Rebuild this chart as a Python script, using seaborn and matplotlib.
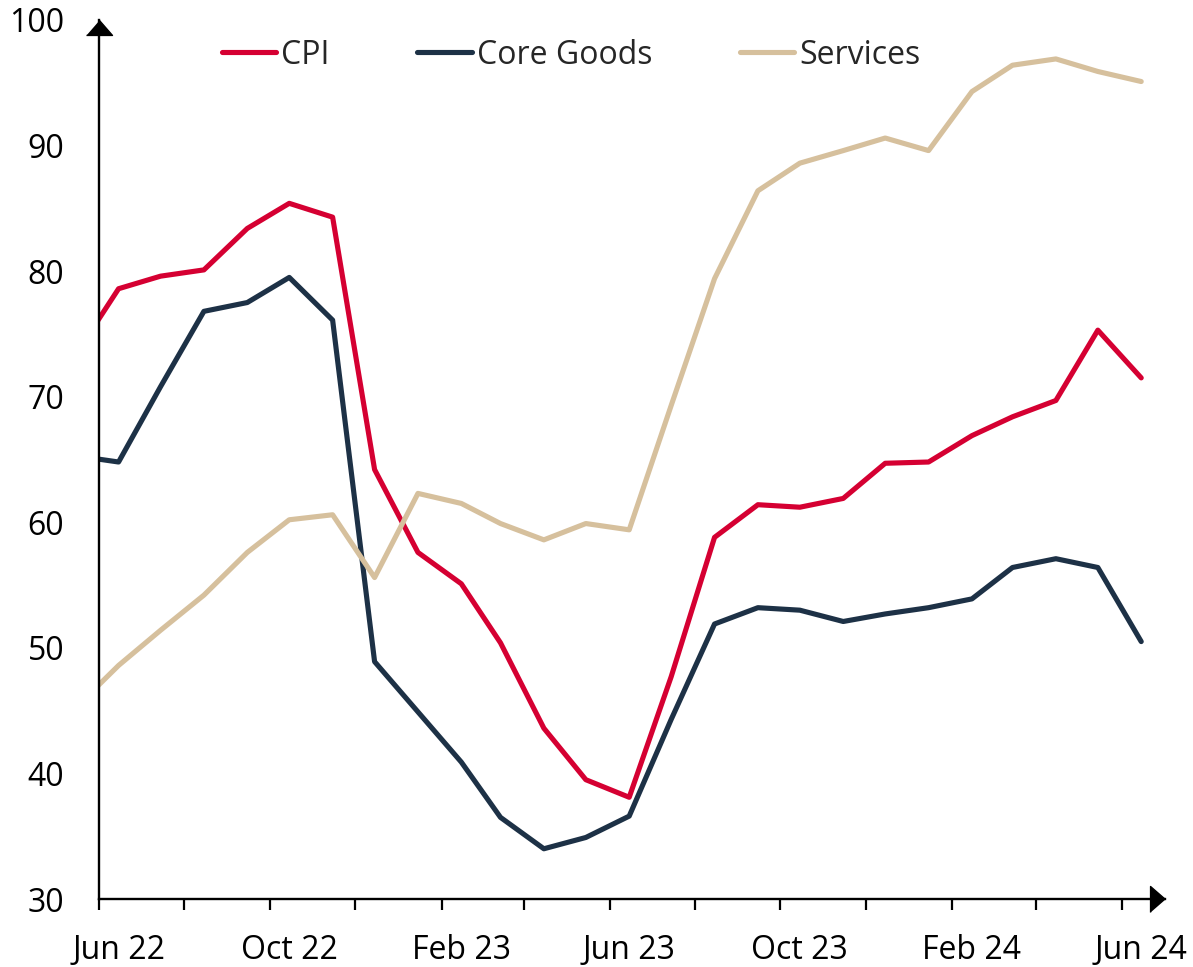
import numpy as np
import pandas as pd
import seaborn as sns
import matplotlib.pyplot as plt
import matplotlib.dates as mdates

# monthly readings, plotted mid-month (first point is May 22, clipped by the axis)
months = pd.date_range("2022-05-01", "2024-06-01", freq="MS") + pd.Timedelta(days=14)

cpi = [73.3, 78.6, 79.6, 80.1, 83.4, 85.4, 84.3, 64.2, 57.6, 55.1, 50.4, 43.6, 39.5,
       38.1, 47.7, 58.8, 61.4, 61.2, 61.9, 64.7, 64.8, 66.9, 68.4, 69.7, 75.3, 71.5]
core_goods = [65.3, 64.8, 70.8, 76.8, 77.5, 79.5, 76.1, 48.9, 44.9, 40.9, 36.5, 34.0, 34.9,
              36.6, 44.3, 51.9, 53.2, 53.0, 52.1, 52.7, 53.2, 53.9, 56.4, 57.1, 56.4, 50.5]
services = [45.2, 48.6, 51.4, 54.2, 57.6, 60.2, 60.6, 55.6, 62.3, 61.5, 59.9, 58.6, 59.9,
            59.4, 69.3, 79.4, 86.4, 88.6, 89.6, 90.6, 89.6, 94.3, 96.4, 96.9, 95.9, 95.1]

series_names = ["CPI", "Core Goods", "Services"]
colors = ["#D50032", "#1D3146", "#D6C09D"]

df = pd.DataFrame({"date": months, "CPI": cpi, "Core Goods": core_goods, "Services": services})
long_df = df.melt(id_vars="date", var_name="series", value_name="value")

sns.set_style("white")
plt.rcParams["font.family"] = ["Open Sans", "DejaVu Sans"]

fig = plt.figure(figsize=(11.93, 9.67), dpi=100)
ax = fig.add_axes([99 / 1193, 1 - 899 / 967, (1165 - 99) / 1193, (899 - 20) / 967])

sns.lineplot(data=long_df, x="date", y="value", hue="series", hue_order=series_names,
             palette=colors, linewidth=3.7, ax=ax, solid_capstyle="round")

ax.set_xlim(pd.Timestamp("2022-06-01"), pd.Timestamp("2024-07-02"))
ax.set_ylim(30, 100)
ax.set_yticks(range(30, 101, 10))
ax.set_xlabel("")
ax.set_ylabel("")

# tick marks every two months, labels mid-month every four
ax.xaxis.set_major_locator(mdates.MonthLocator(bymonth=[2, 4, 6, 8, 10, 12], bymonthday=1))
ax.xaxis.set_major_formatter(plt.NullFormatter())
ax.xaxis.set_minor_locator(mdates.MonthLocator(bymonth=[2, 6, 10], bymonthday=15))
ax.xaxis.set_minor_formatter(mdates.DateFormatter("%b %y"))
ax.tick_params(axis="x", which="major", bottom=True, length=8, width=1.6, color="black",
               direction="out")
ax.tick_params(axis="x", which="minor", bottom=True, length=0, pad=25, labelsize=23,
               labelcolor="black")
ax.tick_params(axis="y", length=0, pad=25, labelsize=23, labelcolor="black")

for side in ["top", "right"]:
    ax.spines[side].set_visible(False)
for side in ["left", "bottom"]:
    ax.spines[side].set_color("black")
    ax.spines[side].set_linewidth(1.7)

# arrow heads on the axes
up = [(-1, -1.15), (1, -1.15), (0, 0)]
right = [(-1.15, -1), (-1.15, 1), (0, 0)]
ax.plot(0, 1, marker=up, markersize=21.5, color="black", transform=ax.transAxes, clip_on=False)
ax.plot(1, 0, marker=right, markersize=21.5, color="black", transform=ax.transAxes, clip_on=False)

handles, labels = ax.get_legend_handles_labels()
ax.legend(handles, labels, ncol=3, frameon=False, fontsize=23, loc="center left",
          bbox_to_anchor=(222 / 1193, 1 - 55 / 967), bbox_transform=fig.transFigure,
          borderpad=0, borderaxespad=0, handlelength=1.7, handletextpad=0.15,
          columnspacing=2.75)

fig.savefig("out.png", dpi=100)
